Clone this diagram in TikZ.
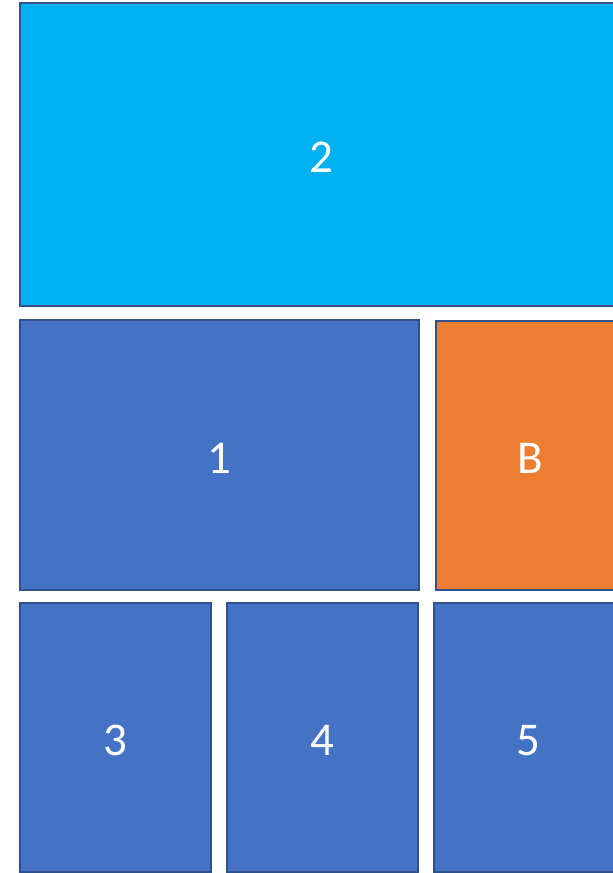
\documentclass[tikz,border=0pt]{standalone}
\usepackage{fontspec}
\setmainfont{Carlito}
\usepackage{xcolor}
\definecolor{tileblue}{HTML}{4472C4}
\definecolor{tilecyan}{HTML}{00B0F0}
\definecolor{tileorange}{HTML}{ED7D31}
\definecolor{tileedge}{HTML}{2F528F}

\begin{document}
\begin{tikzpicture}[
x=1pt,
y=-1pt,
every node/.style={font=\fontsize{47}{52}\selectfont},
tile/.style={rectangle,draw=tileedge,line width=1.6pt,text=white,inner sep=0pt,text height=36pt,text depth=0pt,anchor=center},
bluetile/.style={tile,fill=tileblue},
cyantile/.style={tile,fill=tilecyan},
orangetile/.style={tile,fill=tileorange}
]
\useasboundingbox (0,0) rectangle (613,873);
\clip (0,0) rectangle (613,873);
\fill[white] (0,0) rectangle (613,873);
\node[cyantile,minimum width=602pt,minimum height=303pt] (tiletwo) at (321,154.5) {2};
\node[bluetile,minimum width=399pt,minimum height=270pt] (tileone) at (219.5,455) {1};
\node[orangetile,minimum width=188pt,minimum height=269pt] (tileb) at (530,455.5) {B};
\node[bluetile,minimum width=191pt,minimum height=269pt] (tilethree) at (115.5,737.5) {3};
\node[bluetile,minimum width=191pt,minimum height=269pt] (tilefour) at (322.5,737.5) {4};
\node[bluetile,minimum width=188pt,minimum height=269pt] (tilefive) at (528,737.5) {5};
\end{tikzpicture}
\end{document}
